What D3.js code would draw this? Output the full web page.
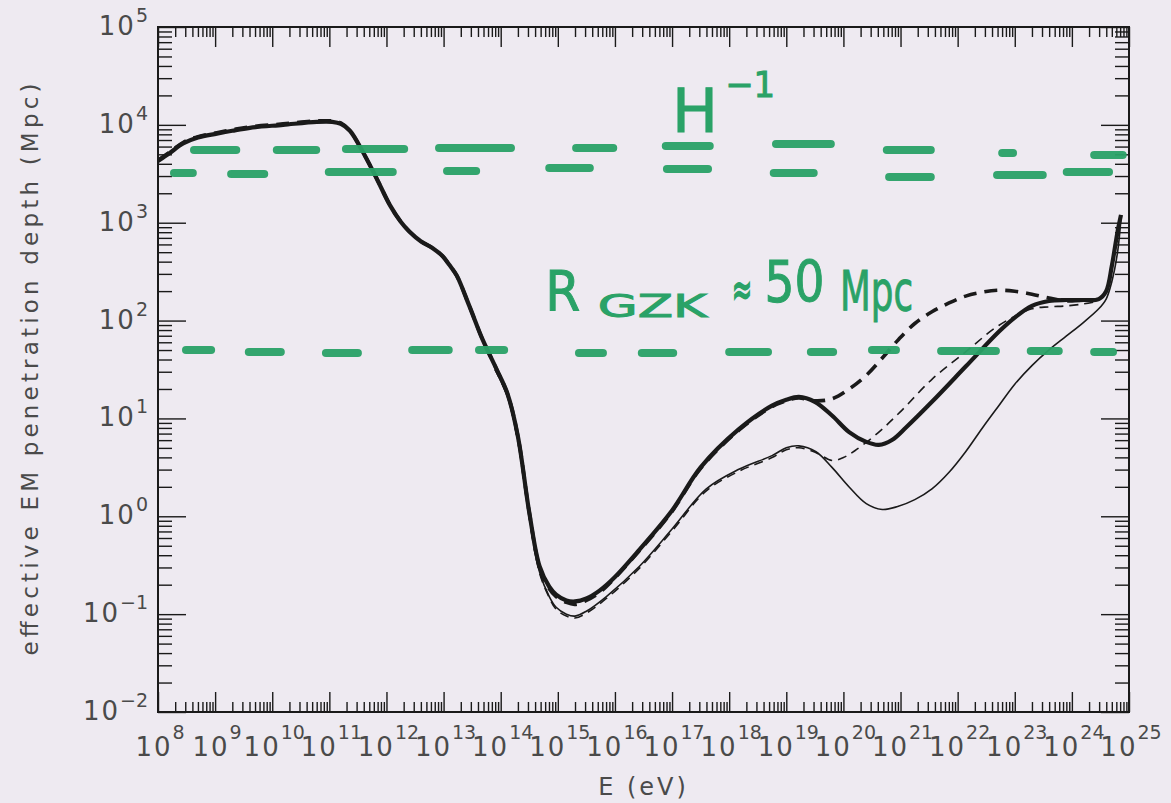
<!DOCTYPE html>
<html>
<head>
<meta charset="utf-8">
<script src="https://cdn.jsdelivr.net/npm/d3@7"></script>
<style>
  html, body { margin: 0; padding: 0; background: #eeeaf1; }
  svg { display: block; }
</style>
</head>
<body>
<svg id="chart" width="1171" height="803"></svg>
<script>
// ---- tick labels (powers of ten) ----
const xTickExponents = [8, 9, 10, 11, 12, 13, 14, 15, 16, 17, 18, 19, 20, 21, 22, 23, 24, 25];
const yTickExponents = [-2, -1, 0, 1, 2, 3, 4, 5];

// ---- curves: log10(E / eV) and log10(depth / Mpc) ----
const thickSolidLogE = [8.0, 8.2, 8.44, 8.7, 9.03, 9.3, 9.61, 10.19, 10.78, 11.05, 11.2, 11.36, 11.58, 11.83, 12.06, 12.25, 12.4, 12.6, 12.81, 12.98, 13.1, 13.23, 13.45, 13.68, 13.93, 14.12, 14.3, 14.5, 14.68, 14.85, 14.97, 15.15, 15.3, 15.5, 15.73, 16.0, 16.43, 17.0, 17.5, 18.17, 18.75, 19.0, 19.22, 19.5, 19.8, 20.1, 20.4, 20.62, 20.85, 21.1, 21.55, 22.14, 22.72, 23.0, 23.3, 23.6, 23.9, 24.2, 24.47, 24.6, 24.7, 24.8, 24.86];
const thickSolidLogDepth = [3.63, 3.71, 3.81, 3.87, 3.91, 3.94, 3.97, 4.0, 4.03, 4.03, 4.01, 3.94, 3.73, 3.45, 3.18, 3.01, 2.91, 2.81, 2.74, 2.66, 2.57, 2.46, 2.15, 1.81, 1.5, 1.25, 0.82, 0.04, -0.51, -0.72, -0.8, -0.86, -0.87, -0.84, -0.76, -0.62, -0.34, 0.06, 0.5, 0.89, 1.13, 1.19, 1.22, 1.17, 1.03, 0.86, 0.76, 0.73, 0.78, 0.91, 1.17, 1.53, 1.885, 2.03, 2.15, 2.2, 2.21, 2.21, 2.22, 2.3, 2.56, 2.91, 3.08];

const thickDashedLogE = [8.0, 8.2, 8.44, 8.7, 9.03, 9.3, 9.61, 10.19, 10.78, 11.05, 11.2, 11.36, 11.58, 11.83, 12.06, 12.25, 12.4, 12.6, 12.81, 12.98, 13.1, 13.23, 13.45, 13.68, 13.93, 14.12, 14.3, 14.5, 14.68, 14.85, 14.97, 15.15, 15.3, 15.5, 15.73, 16.0, 16.43, 17.0, 17.5, 18.17, 18.75, 19.0, 19.22, 19.5, 19.8, 20.1, 20.4, 20.7, 20.97, 21.25, 21.55, 21.85, 22.14, 22.43, 22.72, 23.0, 23.3, 23.6, 23.9, 24.2, 24.3];
const thickDashedLogDepth = [3.64, 3.72, 3.82, 3.88, 3.92, 3.95, 3.98, 4.01, 4.04, 4.04, 4.02, 3.94, 3.73, 3.45, 3.18, 3.01, 2.91, 2.81, 2.74, 2.66, 2.57, 2.46, 2.15, 1.81, 1.5, 1.25, 0.82, 0.04, -0.52, -0.74, -0.82, -0.88, -0.9, -0.86, -0.78, -0.63, -0.35, 0.05, 0.49, 0.88, 1.12, 1.18, 1.21, 1.18, 1.2, 1.3, 1.44, 1.63, 1.81, 1.97, 2.09, 2.18, 2.25, 2.29, 2.31, 2.3, 2.27, 2.23, 2.2, 2.21, 2.21];

const thinSolidLogE = [13.9, 14.12, 14.3, 14.5, 14.68, 14.85, 14.97, 15.15, 15.3, 15.5, 15.85, 16.43, 17.0, 17.6, 18.17, 18.75, 19.0, 19.22, 19.52, 19.8, 20.1, 20.4, 20.68, 20.95, 21.25, 21.55, 21.85, 22.14, 22.43, 22.72, 23.0, 23.3, 23.6, 23.9, 24.2, 24.47, 24.6, 24.7, 24.8, 24.86];
const thinSolidLogDepth = [1.5, 1.22, 0.78, 0.0, -0.57, -0.82, -0.93, -1.0, -1.02, -0.97, -0.82, -0.51, -0.13, 0.28, 0.48, 0.62, 0.7, 0.72, 0.66, 0.5, 0.3, 0.13, 0.07, 0.1, 0.17, 0.28, 0.45, 0.66, 0.9, 1.13, 1.35, 1.54, 1.7, 1.84, 1.98, 2.12, 2.22, 2.4, 2.7, 3.05];

const thinDashedLogE = [13.9, 14.12, 14.3, 14.5, 14.68, 14.85, 14.97, 15.15, 15.3, 15.5, 15.85, 16.43, 17.0, 17.6, 18.17, 18.75, 19.0, 19.22, 19.52, 19.8, 20.0, 20.2, 20.6, 21.0, 21.55, 22.14, 22.72, 23.3, 23.6, 23.9, 24.2, 24.4];
const thinDashedLogDepth = [1.5, 1.22, 0.76, -0.02, -0.58, -0.83, -0.95, -1.02, -1.04, -0.99, -0.84, -0.53, -0.15, 0.26, 0.46, 0.6, 0.68, 0.7, 0.65, 0.57, 0.6, 0.67, 0.85, 1.07, 1.4, 1.68, 1.95, 2.12, 2.14, 2.15, 2.17, 2.19];

// ---- hand-drawn reference levels: [log10 E start, log10 E end, log10 depth] ----
const hubbleUpperDashes = [[8.56, 9.44, 3.743], [10.01, 10.84, 3.743], [11.22, 12.38, 3.753], [12.85, 14.25, 3.764], [15.25, 16.04, 3.764], [16.82, 17.73, 3.784], [18.75, 19.85, 3.804], [20.69, 21.6, 3.743], [22.71, 23.04, 3.712], [24.32, 24.96, 3.692]];
const hubbleLowerDashes = [[8.21, 8.68, 3.508], [9.21, 9.93, 3.498], [10.92, 12.18, 3.518], [12.99, 13.64, 3.529], [14.78, 15.63, 3.559], [16.84, 17.7, 3.549], [18.71, 19.55, 3.508], [20.73, 21.6, 3.467], [22.62, 23.56, 3.488], [23.84, 24.72, 3.518]];
const gzkDashes = [[8.42, 9.0, 1.699], [9.52, 10.22, 1.679], [10.87, 11.57, 1.669], [12.38, 13.16, 1.699], [13.55, 14.13, 1.699], [15.3, 15.86, 1.669], [16.4, 17.09, 1.669], [17.93, 18.75, 1.679], [19.36, 19.89, 1.679], [20.43, 20.99, 1.699], [21.64, 22.74, 1.689], [23.21, 23.84, 1.689], [24.32, 24.79, 1.679]];

// ---- layout ----
const svg = d3.select("#chart");
const W = 1171, H = 803;
const plot = { left: 158, right: 1129, top: 27, bottom: 712 };
const ink = "#1a1a1a";
const labelInk = "#4a4a4a";
const marker = "#2aa267";
const font = "DejaVu Sans, Liberation Sans, sans-serif";

svg.append("rect").attr("width", W).attr("height", H).attr("fill", "#eeeaf1");

const x = d3.scaleLog().domain([1e8, 1e25]).range([plot.left, plot.right]);
const y = d3.scaleLog().domain([1e-2, 1e5]).range([plot.bottom, plot.top]);

const xMajor = xTickExponents.map(e => Math.pow(10, e));
const yMajor = yTickExponents.map(e => Math.pow(10, e));
const xMinor = [], yMinor = [];
for (let e = 8; e < 25; e++) for (let k = 2; k <= 9; k++) xMinor.push(k * Math.pow(10, e));
for (let e = -2; e < 5; e++) for (let k = 2; k <= 9; k++) yMinor.push(k * Math.pow(10, e));

// ---- inward ticks on all four sides ----
const xMajorLen = 20, xMinorLen = 10, yMajorLen = 28, yMinorLen = 14;
function styleAxis(g) {
  g.select(".domain").remove();
  g.selectAll("text").remove();
  g.selectAll("line").attr("stroke", ink).attr("stroke-width", 1.4);
}
const axes = svg.append("g");
axes.append("g").attr("transform", `translate(0,${plot.bottom})`)
  .call(d3.axisBottom(x).tickValues(xMajor).tickSizeInner(-xMajorLen).tickSizeOuter(0).tickFormat("")).call(styleAxis);
axes.append("g").attr("transform", `translate(0,${plot.bottom})`)
  .call(d3.axisBottom(x).tickValues(xMinor).tickSizeInner(-xMinorLen).tickSizeOuter(0).tickFormat("")).call(styleAxis);
axes.append("g").attr("transform", `translate(0,${plot.top})`)
  .call(d3.axisTop(x).tickValues(xMajor).tickSizeInner(-xMajorLen).tickSizeOuter(0).tickFormat("")).call(styleAxis);
axes.append("g").attr("transform", `translate(0,${plot.top})`)
  .call(d3.axisTop(x).tickValues(xMinor).tickSizeInner(-xMinorLen).tickSizeOuter(0).tickFormat("")).call(styleAxis);
axes.append("g").attr("transform", `translate(${plot.left},0)`)
  .call(d3.axisLeft(y).tickValues(yMajor).tickSizeInner(-yMajorLen).tickSizeOuter(0).tickFormat("")).call(styleAxis);
axes.append("g").attr("transform", `translate(${plot.left},0)`)
  .call(d3.axisLeft(y).tickValues(yMinor).tickSizeInner(-yMinorLen).tickSizeOuter(0).tickFormat("")).call(styleAxis);
axes.append("g").attr("transform", `translate(${plot.right},0)`)
  .call(d3.axisRight(y).tickValues(yMajor).tickSizeInner(-yMajorLen).tickSizeOuter(0).tickFormat("")).call(styleAxis);
axes.append("g").attr("transform", `translate(${plot.right},0)`)
  .call(d3.axisRight(y).tickValues(yMinor).tickSizeInner(-yMinorLen).tickSizeOuter(0).tickFormat("")).call(styleAxis);

// plot frame
svg.append("rect")
  .attr("x", plot.left).attr("y", plot.top)
  .attr("width", plot.right - plot.left).attr("height", plot.bottom - plot.top)
  .attr("fill", "none").attr("stroke", ink).attr("stroke-width", 2);

// ---- tick labels: 10 with superscript exponent ----
const fmtExp = e => (e < 0 ? "\u2212" + Math.abs(e) : String(e));
xTickExponents.forEach(e => {
  const t = svg.append("text")
    .attr("x", x(Math.pow(10, e)) + 2).attr("y", 756)
    .attr("text-anchor", "middle")
    .attr("font-family", font).attr("fill", labelInk);
  t.append("tspan").attr("font-size", 26).attr("letter-spacing", 2).text("10");
  t.append("tspan").attr("font-size", 19).attr("dy", -17).text(fmtExp(e));
});
yTickExponents.forEach(e => {
  const t = svg.append("text")
    .attr("x", 148).attr("y", y(Math.pow(10, e)) + 8)
    .attr("text-anchor", "end")
    .attr("font-family", font).attr("fill", labelInk);
  t.append("tspan").attr("font-size", 26).attr("letter-spacing", 2).text("10");
  t.append("tspan").attr("font-size", 19).attr("dy", -13).text(fmtExp(e));
});

// axis titles
svg.append("text")
  .attr("x", (plot.left + plot.right) / 2).attr("y", 795)
  .attr("text-anchor", "middle")
  .attr("font-family", font).attr("font-size", 24).attr("letter-spacing", 3)
  .attr("fill", labelInk).text("E (eV)");
svg.append("text")
  .attr("transform", `translate(38,${(plot.top + plot.bottom) / 2}) rotate(-90)`)
  .attr("text-anchor", "middle")
  .attr("font-family", font).attr("font-size", 23)
  .attr("textLength", 572).attr("lengthAdjust", "spacing")
  .attr("fill", labelInk).text("effective EM penetration depth (Mpc)");

// ---- curves ----
svg.append("clipPath").attr("id", "plotClip")
  .append("rect").attr("x", plot.left).attr("y", plot.top)
  .attr("width", plot.right - plot.left).attr("height", plot.bottom - plot.top);

const line = d3.line()
  .x(d => x(Math.pow(10, d[0])))
  .y(d => y(Math.pow(10, d[1])))
  .curve(d3.curveCatmullRom.alpha(0.5));
const zip = (a, b) => a.map((v, i) => [v, b[i]]);

const curves = svg.append("g").attr("clip-path", "url(#plotClip)")
  .attr("fill", "none").attr("stroke", ink)
  .attr("stroke-linejoin", "round");

curves.append("path").attr("d", line(zip(thinSolidLogE, thinSolidLogDepth)))
  .attr("stroke-width", 1.6);
curves.append("path").attr("d", line(zip(thinDashedLogE, thinDashedLogDepth)))
  .attr("stroke-width", 1.6).attr("stroke-dasharray", "9,6");
curves.append("path").attr("d", line(zip(thickDashedLogE, thickDashedLogDepth)))
  .attr("stroke-width", 3.6).attr("stroke-dasharray", "13,8");
curves.append("path").attr("d", line(zip(thickSolidLogE, thickSolidLogDepth)))
  .attr("stroke-width", 4.2);

// ---- marker annotations ----
const notes = svg.append("g");
const dashWidth = 8;
function drawDashes(list) {
  notes.selectAll(null).data(list).enter().append("line")
    .attr("x1", d => x(Math.pow(10, d[0])) + dashWidth / 2)
    .attr("x2", d => x(Math.pow(10, d[1])) - dashWidth / 2)
    .attr("y1", d => y(Math.pow(10, d[2])))
    .attr("y2", d => y(Math.pow(10, d[2])))
    .attr("stroke", marker).attr("stroke-width", dashWidth)
    .attr("stroke-linecap", "round").attr("opacity", 0.95);
}
drawDashes(hubbleUpperDashes);
drawDashes(hubbleLowerDashes);
drawDashes(gzkDashes);

function note(text, logE, logD, size, width, stretchY) {
  const px = x(Math.pow(10, logE)), py = y(Math.pow(10, logD));
  notes.append("text")
    .attr("transform", `translate(${px},${py}) scale(1,${stretchY || 1})`)
    .attr("font-family", font).attr("font-size", size)
    .attr("textLength", width).attr("lengthAdjust", "spacingAndGlyphs")
    .attr("fill", marker).attr("stroke", marker).attr("stroke-width", 1)
    .text(text);
}
note("H", 17.0, 3.927, 60, 46);
note("\u22121", 17.93, 4.285, 36, 50);
note("R", 14.78, 2.108, 56, 35);
note("GZK", 15.70, 2.037, 32, 109);
note("\u2248", 18.05, 2.16, 24, 20, 1.9);
note("50", 18.62, 2.19, 57, 60);
note("Mpc", 19.94, 2.108, 55, 73);
</script>
</body>
</html>
